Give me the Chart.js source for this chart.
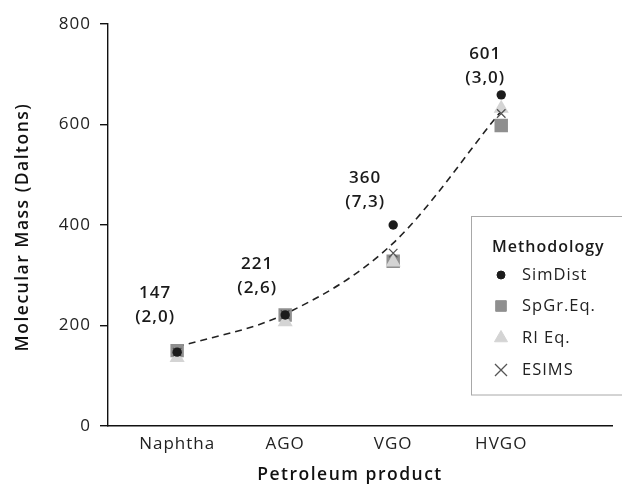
<!DOCTYPE html>
<html><head><meta charset="utf-8">
<script src="https://cdn.jsdelivr.net/npm/chart.js@4"></script>
<style>html,body{margin:0;padding:0;background:#fff}#wrap{width:622px;height:490px;position:relative}</style>
</head><body><div id="wrap"><canvas id="c" width="622" height="490"></canvas></div>
<script>
const categories = ['Naphtha', 'AGO', 'VGO', 'HVGO'];
const simDist = [147, 221, 400, 659];
const spGrEq = [150, 221, 328, 598];
const riEq = [136, 207, 326, 632];
const esims = [147, 222, 344, 622];
const trend = [157, 223, 364, 627];
const annotMain = ['147', '221', '360', '601'];
const annotSub = ['(2,0)', '(2,6)', '(7,3)', '(3,0)'];
const yTicks = [0, 200, 400, 600, 800];

const FONT = '"Open Sans", "Noto Sans", sans-serif';
const pts = arr => arr.map((v, i) => ({x: i + 1, y: v}));

const series = [
  {label: 'SimDist', data: pts(simDist), pointStyle: 'circle', pointRadius: 4.7, color: '#1c1c1c', borderWidth: 0, order: 1, legendRadius: 4},
  {label: 'SpGr.Eq.', data: pts(spGrEq), pointStyle: 'rect', pointRadius: 9.5, color: '#8f8f8f', borderWidth: 0, order: 4, legendRadius: 7.5},
  {label: 'RI Eq.', data: pts(riEq), pointStyle: 'triangle', pointRadius: 8.7, color: '#d4d4d4', borderWidth: 0, order: 3, legendRadius: 7.5},
  {label: 'ESIMS', data: pts(esims), pointStyle: 'crossRot', pointRadius: 6, color: '#555', borderWidth: 1.3, order: 2, legendRadius: 8.5}
];

const datasets = series.map(s => ({
  label: s.label, data: s.data, showLine: false,
  pointStyle: s.pointStyle, pointRadius: s.pointRadius, pointHoverRadius: s.pointRadius,
  pointBackgroundColor: s.color, pointBorderColor: s.color, pointBorderWidth: s.borderWidth,
  order: s.order
}));
datasets.push({
  label: 'trend', data: pts(trend), showLine: true, pointRadius: 0, borderColor: '#222', borderWidth: 1.6,
  borderDash: [7, 5], cubicInterpolationMode: 'monotone', fill: false, order: 10
});

const spacingPlugin = {
  id: 'spacing',
  beforeDraw(chart) { chart.ctx.letterSpacing = '1px'; },
  beforeLayout(chart) { chart.ctx.letterSpacing = '1px'; }
};

const annotPlugin = {
  id: 'annot',
  afterDatasetsDraw(chart) {
    const {ctx, scales: {x, y}} = chart;
    const dx = [-22, -28, -28, -16];
    const dy = [-35, -27, -23, -17];
    ctx.save();
    ctx.letterSpacing = '1px';
    ctx.fillStyle = '#1a1a1a';
    ctx.font = '600 17px ' + FONT;
    ctx.textAlign = 'center';
    ctx.textBaseline = 'middle';
    categories.forEach((c, i) => {
      const px = x.getPixelForValue(i + 1) + dx[i];
      const py = y.getPixelForValue(simDist[i]) + dy[i];
      ctx.fillText(annotSub[i], px, py);
      ctx.fillText(annotMain[i], px, py - 24);
    });
    ctx.restore();
  }
};

const legendPlugin = {
  id: 'boxLegend',
  afterDraw(chart) {
    const ctx = chart.ctx;
    ctx.save();
    ctx.letterSpacing = '1px';
    ctx.fillStyle = '#fff';
    ctx.strokeStyle = '#a8a8a8';
    ctx.lineWidth = 1;
    ctx.fillRect(471.5, 216.5, 160, 178.5);
    ctx.strokeRect(471.5, 216.5, 160, 178.5);
    ctx.fillStyle = '#1a1a1a';
    ctx.font = '600 16px ' + FONT;
    ctx.textAlign = 'left';
    ctx.textBaseline = 'middle';
    ctx.fillText('Methodology', 492, 247);
    const rows = [275, 306, 338, 370];
    series.forEach((s, i) => {
      ctx.fillStyle = s.color;
      ctx.strokeStyle = s.color;
      ctx.lineWidth = s.pointStyle === 'crossRot' ? 1.3 : 0;
      Chart.helpers.drawPoint(ctx, {pointStyle: s.pointStyle, radius: s.legendRadius, rotation: 0, borderWidth: ctx.lineWidth}, 501, rows[i]);
      ctx.fillStyle = '#222';
      ctx.font = '16.5px ' + FONT;
      ctx.fillText(s.label, 522, rows[i]);
    });
    ctx.restore();
  }
};

const axisTitlePlugin = {
  id: 'axisTitles',
  afterDraw(chart) {
    const ctx = chart.ctx;
    ctx.save();
    ctx.letterSpacing = '1.5px';
    ctx.fillStyle = '#111';
    ctx.font = '600 17.5px ' + FONT;
    ctx.textAlign = 'center';
    ctx.textBaseline = 'middle';
    ctx.fillText('Petroleum product', 350, 475);
    ctx.translate(23, 227);
    ctx.rotate(-Math.PI / 2);
    ctx.fillText('Molecular Mass (Daltons)', 0, 0);
    ctx.restore();
  }
};

new Chart(document.getElementById('c'), {
  type: 'line',
  data: {datasets},
  options: {
    responsive: false,
    animation: false,
    events: [],
    layout: {padding: {top: 24, right: 9, left: 0, bottom: 0}},
    plugins: {legend: {display: false}, tooltip: {enabled: false}},
    scales: {
      x: {
        type: 'linear', min: 0.36, max: 5.03,
        afterBuildTicks: s => { s.ticks = categories.map((c, i) => ({value: i + 1})); },
        afterFit: s => { s.height = 64; },
        ticks: {callback: v => categories[v - 1] || '', color: '#222', font: {family: FONT, size: 17}, padding: 8, autoSkip: false, maxRotation: 0},
        grid: {display: false, drawTicks: false},
        border: {display: true, color: '#111', width: 1.4},
        title: {display: false}
      },
      y: {
        min: 0, max: 800,
        afterBuildTicks: s => { s.ticks = yTicks.map(v => ({value: v})); },
        afterFit: s => { s.width = 108; },
        ticks: {color: '#222', font: {family: FONT, size: 17}, padding: 9},
        grid: {display: true, drawOnChartArea: false, drawTicks: true, tickLength: 8, color: '#111', lineWidth: 1.4},
        border: {display: true, color: '#111', width: 1.4},
        title: {display: false}
      }
    }
  },
  plugins: [spacingPlugin, annotPlugin, legendPlugin, axisTitlePlugin]
});
</script></body></html>
